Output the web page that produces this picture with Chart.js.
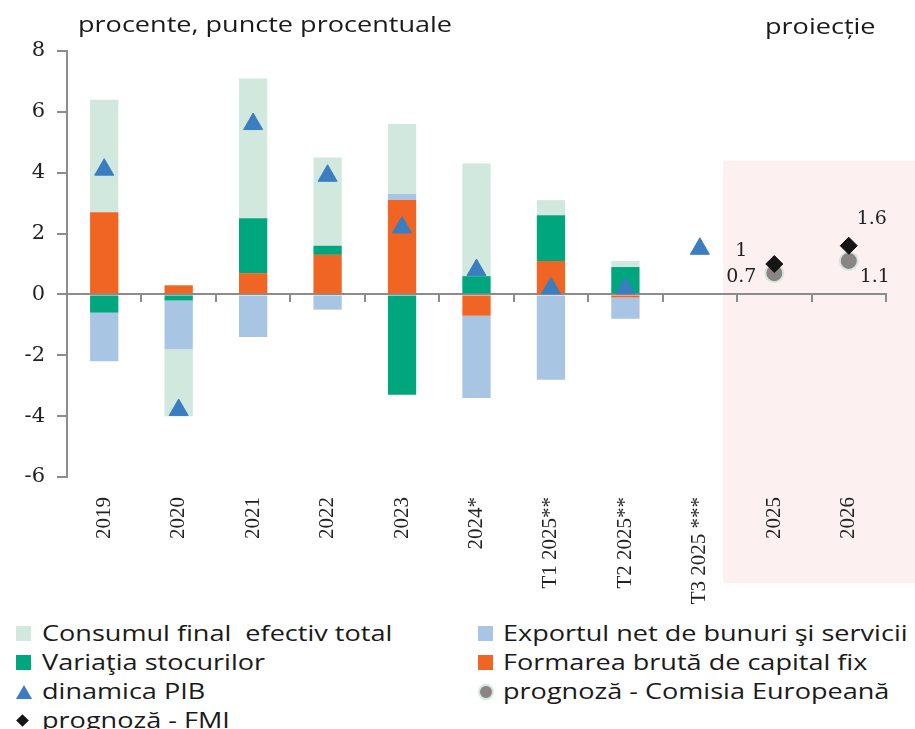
<!DOCTYPE html>
<html>
<head>
<meta charset="utf-8">
<script src="https://cdn.jsdelivr.net/npm/chart.js"></script>
<style>
body { margin: 0; background: #fff; }
#wrap { position: relative; width: 915px; height: 729px; overflow: hidden; background: #fff; }
#c { position: absolute; left: 0; top: 0; }
.txt { position: absolute; font-family: "Open Sans", sans-serif; font-size: 22px; color: #1a1a1a;
       white-space: pre; line-height: 28px; transform-origin: 0 50%; transform: scaleX(1.23); }
.mk { position: absolute; }
</style>
</head>
<body>
<div id="wrap">
  <canvas id="c" width="915" height="615"></canvas>
  <div class="txt" style="left:78px; top:9px">procente, puncte procentuale</div>
  <div class="txt" style="left:765px; top:11px">proiecție</div>
  <div id="legend"></div>
</div>
<script>
// categorii si valori (procente, puncte procentuale)
var categorii = ['2019', '2020', '2021', '2022', '2023', '2024*', 'T1 2025**', 'T2 2025**', 'T3 2025 ***', '2025', '2026'];
var consum   = [3.7, -2.2, 4.6, 2.9, 2.3, 3.7, 0.5, 0.2, null, null, null];
var exportNet = [-1.6, -1.6, -1.4, -0.5, 0.2, -2.7, -2.8, -0.7, null, null, null];
var stocuri  = [-0.6, -0.2, 1.8, 0.3, -3.3, 0.6, 1.5, 0.9, null, null, null];
var capital  = [2.7, 0.3, 0.7, 1.3, 3.1, -0.7, 1.1, -0.1, null, null, null];
var pib      = [4.1, -3.8, 5.6, 3.9, 2.2, 0.8, 0.2, 0.2, 1.5, null, null];
var prognozaCE  = [null, null, null, null, null, null, null, null, null, 0.7, 1.1];
var prognozaFMI = [null, null, null, null, null, null, null, null, null, 1.0, 1.6];
var yTicks = [-6, -4, -2, 0, 2, 4, 6, 8];

var axisGrey = '#8c8c8c';

// fundal roz pentru proiectie
var proiectiePlugin = {
    id: 'proiectie',
    beforeDraw: function(chart) {
        var x = chart.scales.x, y = chart.scales.y;
        var w = x.width / categorii.length;
        var left = x.getPixelForValue(9) - 0.69 * w;
        var top = y.getPixelForValue(4.4);
        var ctx = chart.ctx;
        ctx.save();
        ctx.fillStyle = '#fcf0f1';
        ctx.fillRect(left, top, chart.width - left, chart.chartArea.bottom + 106 - top);
        ctx.restore();
    }
};

// etichete pentru prognoze
var eticheteOffset = { 'prognoză - Comisia Europeană': [[-33, 4], [26, 16]], 'prognoză - FMI': [[-33, -13], [23, -27]] };
var etichetePlugin = {
    id: 'etichete',
    afterDatasetsDraw: function(chart) {
        var ctx = chart.ctx;
        ctx.save();
        ctx.font = '19px "DejaVu Serif"';
        ctx.fillStyle = '#222';
        ctx.textAlign = 'center';
        ctx.textBaseline = 'middle';
        chart.data.datasets.forEach(function(ds, di) {
            var off = eticheteOffset[ds.label];
            if (!off) return;
            var meta = chart.getDatasetMeta(di);
            var k = 0;
            meta.data.forEach(function(el, i) {
                if (ds.data[i] == null) return;
                ctx.fillText(String(ds.data[i]), el.x + off[k][0], el.y + off[k][1]);
                k++;
            });
        });
        ctx.restore();
    }
};

var ctx = document.getElementById('c');
var grafic = new Chart(ctx, {
    type: 'bar',
    data: {
        labels: categorii,
        datasets: [
            { type: 'line', label: 'dinamica PIB', data: pib, stack: 'pib', showLine: false,
              pointStyle: 'triangle', pointRadius: 11, pointBackgroundColor: '#3a7dc0', pointBorderColor: '#3a7dc0', pointBorderWidth: 1 },
            { type: 'line', label: 'prognoză - FMI', data: prognozaFMI, stack: 'fmi', showLine: false,
              pointStyle: 'rectRot', pointRadius: 8.5, pointBackgroundColor: '#151515', pointBorderColor: '#151515', pointBorderWidth: 1 },
            { type: 'line', label: 'prognoză - Comisia Europeană', data: prognozaCE, stack: 'ce', showLine: false,
              pointStyle: 'circle', pointRadius: 9, pointBackgroundColor: '#8a8484', pointBorderColor: '#d3e8dc', pointBorderWidth: 2 },
            { label: 'Formarea brută de capital fix', data: capital, backgroundColor: '#f06524', stack: 'bare', order: 1 },
            { label: 'Variaţia stocurilor', data: stocuri, backgroundColor: '#00a67d', stack: 'bare', order: 1 },
            { label: 'Exportul net de bunuri şi servicii', data: exportNet, backgroundColor: '#a9c5e4', stack: 'bare', order: 1 },
            { label: 'Consumul final  efectiv total', data: consum, backgroundColor: '#d1e8de', stack: 'bare', order: 1 }
        ]
    },
    options: {
        responsive: false,
        animation: false,
        devicePixelRatio: 1,
        categoryPercentage: 0.38,
        barPercentage: 1,
        layout: { padding: { top: 51, right: 29, left: 0, bottom: 0 } },
        plugins: { legend: { display: false }, tooltip: { enabled: false } },
        scales: {
            x: {
                stacked: true,
                offset: true,
                grid: { display: false },
                border: { display: false },
                ticks: { autoSkip: false, minRotation: 90, maxRotation: 90, padding: 12, color: '#222',
                         font: { family: '"Liberation Serif"', size: 21 } },
                afterFit: function(s) { s.height = 138; }
            },
            x2: {
                type: 'category',
                axis: 'x',
                labels: categorii,
                offset: true,
                position: { y: 0 },
                z: 1,
                grid: { drawOnChartArea: false, offset: true, tickLength: 7, color: axisGrey, lineWidth: 2 },
                border: { color: axisGrey, width: 2 },
                ticks: { display: false }
            },
            y: {
                stacked: true,
                min: -6,
                max: 8,
                afterBuildTicks: function(s) { s.ticks = yTicks.map(function(v) { return { value: v }; }); },
                grid: { drawOnChartArea: false, tickLength: 10, color: axisGrey, lineWidth: 2 },
                border: { color: axisGrey, width: 2 },
                ticks: { padding: 12, color: '#222', font: { family: '"DejaVu Serif"', size: 21 } },
                afterFit: function(s) { s.width = 67; }
            }
        }
    },
    plugins: [proiectiePlugin, etichetePlugin]
});

// legenda
var legenda = [
    { ds: 6, col: 0, row: 0, mk: 'box' },
    { ds: 5, col: 1, row: 0, mk: 'box' },
    { ds: 4, col: 0, row: 1, mk: 'box' },
    { ds: 3, col: 1, row: 1, mk: 'box' },
    { ds: 0, col: 0, row: 2, mk: 'tri' },
    { ds: 2, col: 1, row: 2, mk: 'dot' },
    { ds: 1, col: 0, row: 3, mk: 'dia' }
];
var colX = [[16, 42], [478, 503]];
var rowY = [633, 662, 691, 720];
var leg = document.getElementById('legend');
legenda.forEach(function(it) {
    var ds = grafic.data.datasets[it.ds];
    var cy = rowY[it.row];
    var m = document.createElement('div');
    m.className = 'mk';
    if (it.mk === 'box') {
        m.style.cssText = 'left:' + colX[it.col][0] + 'px;top:' + (cy - 7) + 'px;width:15px;height:15px;background:' + ds.backgroundColor;
    } else if (it.mk === 'tri') {
        m.style.cssText = 'left:' + colX[it.col][0] + 'px;top:' + (cy - 6) + 'px;width:0;height:0;border-left:8px solid transparent;border-right:8px solid transparent;border-bottom:14px solid ' + ds.pointBackgroundColor;
    } else if (it.mk === 'dot') {
        m.style.cssText = 'left:' + colX[it.col][0] + 'px;top:' + (cy - 7) + 'px;width:12px;height:12px;border-radius:50%;background:' + ds.pointBackgroundColor + ';border:2px solid ' + ds.pointBorderColor;
    } else {
        m.style.cssText = 'left:' + (colX[it.col][0] + 2) + 'px;top:' + (cy - 4) + 'px;width:9px;height:9px;transform:rotate(45deg);background:' + ds.pointBackgroundColor;
    }
    leg.appendChild(m);
    var t = document.createElement('div');
    t.className = 'txt';
    t.style.left = colX[it.col][1] + 'px';
    t.style.top = (cy - 15) + 'px';
    t.textContent = ds.label;
    leg.appendChild(t);
});
</script>
</body>
</html>
